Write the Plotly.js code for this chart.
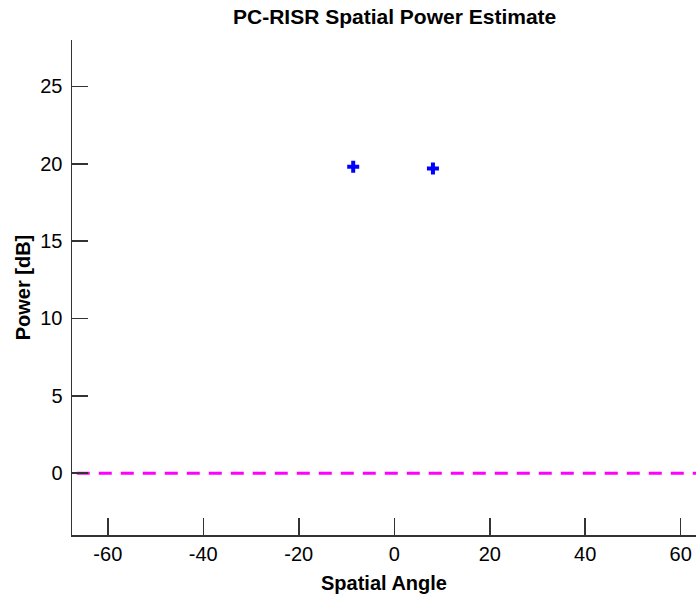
<!DOCTYPE html>
<html>
<head>
<meta charset="utf-8">
<script src="https://cdn.plot.ly/plotly-3.0.1.min.js"></script>
<style>html,body{margin:0;padding:0;background:#fff;}#chart{width:696px;height:598px;}</style>
</head>
<body>
<div id="chart"></div>
<script>
const angles = [-8.6, 8.1];
const powers = [19.8, 19.7];
const refX = [-66.5, 63.2];
const refY = [0, 0];
const xTicks = [-60, -40, -20, 0, 20, 40, 60];
const yTicks = [0, 5, 10, 15, 20, 25];

const font = 'Liberation Sans, Arial, sans-serif';
const traces = [
  {x: refX, y: refY, mode: 'lines', line: {color: '#ff00ff', width: 3, dash: '13px,9px'}, hoverinfo: 'skip'},
  {x: angles, y: powers, mode: 'markers', marker: {symbol: 'cross', size: 10, color: '#0000ff'}}
];
const layout = {
  width: 696, height: 598,
  margin: {l: 72, r: 0, t: 40, b: 63},
  paper_bgcolor: '#fff', plot_bgcolor: '#fff',
  showlegend: false,
  title: {text: '<b>PC-RISR Spatial Power Estimate</b>', font: {family: font, size: 21, color: '#000'}, x: 0.567, xanchor: 'center', y: 0.972, yanchor: 'middle'},
  xaxis: {
    range: [-67.5, 63.2], tickvals: xTicks, ticktext: xTicks.map(String),
    ticks: 'inside', ticklen: 17, tickwidth: 1.5, tickcolor: '#333',
    showline: true, linecolor: '#333', linewidth: 1.5, mirror: false,
    showgrid: false, zeroline: false,
    tickfont: {family: font, size: 20, color: '#000'},
    title: {text: '<b>Spatial Angle</b>', font: {family: font, size: 20, color: '#000'}, standoff: 12}
  },
  yaxis: {
    range: [-4, 28], tickvals: yTicks, ticktext: yTicks.map(String),
    ticks: 'inside', ticklen: 16, tickwidth: 1.5, tickcolor: '#333',
    showline: true, linecolor: '#333', linewidth: 1.5, mirror: false,
    showgrid: false, zeroline: false,
    tickfont: {family: font, size: 20, color: '#000'},
    ticklabelstandoff: 4,
    title: {text: '<b>Power [dB]</b>', font: {family: font, size: 20, color: '#000'}, standoff: 4}
  }
};
Plotly.newPlot('chart', traces, layout, {displayModeBar: false, staticPlot: true});
</script>
</body>
</html>
